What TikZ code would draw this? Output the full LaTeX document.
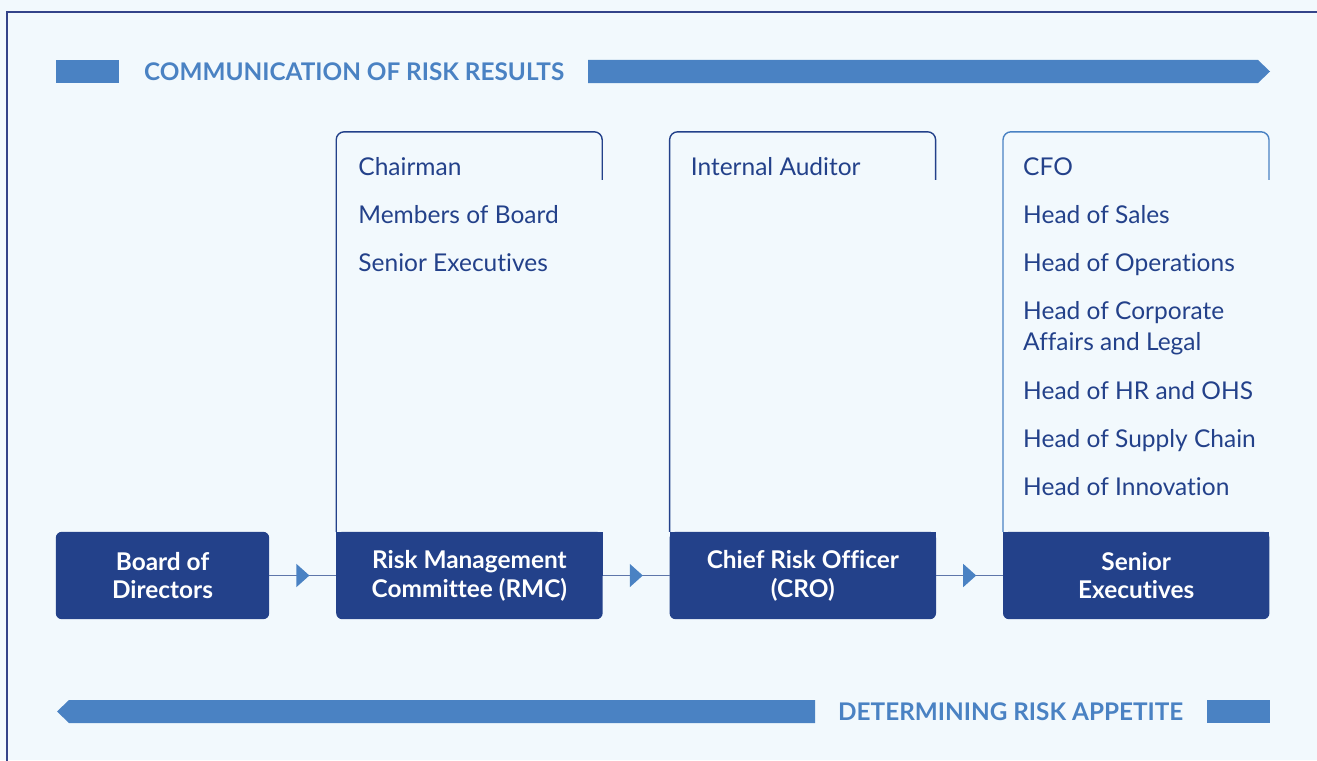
\documentclass[tikz,border=0pt]{standalone}
\usepackage{fontspec}
\setmainfont{Lato}[Ligatures={NoCommon}]
\usetikzlibrary{arrows.meta,positioning,calc,backgrounds,decorations.markings}
\definecolor{pagebg}{HTML}{F2F9FD}
\definecolor{navy}{HTML}{23418A}
\definecolor{bandblue}{HTML}{4A82C3}
\definecolor{frameline}{HTML}{34448A}
\definecolor{linkline}{HTML}{5E76AA}
\tikzset{
    headbox/.style={text=white, font=\bfseries\fontsize{24.5}{29}\selectfont, align=center, minimum width=266bp, minimum height=87bp, inner sep=0pt},
    memberlist/.style={text=navy, font=\fontsize{24.6}{31}\selectfont, align=left, anchor=base west, inner sep=0pt},
    bandtext/.style={text=bandblue, font=\bfseries\fontsize{24.4}{28}\selectfont, inner sep=0pt},
    panelline/.style={draw=navy, line width=1.4bp, rounded corners=8bp},
    linkarrow/.style={draw=linkline, line width=1.3bp, postaction={decorate},
        decoration={markings, mark=at position 0.6 with {\arrow{Triangle[length=13bp,width=23bp,color=bandblue]}}}}
}

\begin{document}
\begin{tikzpicture}[x=1bp, y=-1bp, node distance=67bp]
    \useasboundingbox (0,0) rectangle (1317,760);

    % top and bottom bands
    \fill[bandblue] (56,60) rectangle (119,83);
    \node[bandtext, anchor=west] (commtitle) at (144,71.5) {COMMUNICATION OF RISK RESULTS};
    \fill[bandblue] (588,60) -- (1258,60) -- (1270,71.5) -- (1258,83) -- (588,83) -- cycle;

    \fill[bandblue] (815,700) -- (69,700) -- (57,711.5) -- (69,723) -- (815,723) -- cycle;
    \node[bandtext, anchor=west] (appetite) at (838,711.5) {DETERMINING RISK APPETITE};
    \fill[bandblue] (1207,700) rectangle (1270,723);

    % the four bodies
    \node[headbox, minimum width=213bp] (board) at (162.5,575.5) {Board of\\Directors};
    \node[headbox, right=of board] (rmc) {Risk Management\\Committee (RMC)};
    \node[headbox, right=of rmc] (cro) {Chief Risk Officer\\(CRO)};
    \node[headbox, right=of cro] (senior) {Senior\\Executives};

    \begin{scope}[on background layer]
        \fill[pagebg] (0,0) rectangle (1317,760);
        \draw[frameline, line width=1.3bp] (7,780) -- (7,12) -- (1340,12);
        \fill[navy, rounded corners=6bp] (board.south west) rectangle (board.north east);
        \foreach \n in {rmc,cro,senior}{
            \fill[navy, rounded corners=6bp] (\n.south west) rectangle (\n.north east);
            \fill[navy] (\n.west) rectangle (\n.north east);
        }
    \end{scope}

    % member panels
    \draw[panelline] (rmc.north west) -- ++(0,-400) -- ++(266,0) -- ++(0,48);
    \draw[panelline] (cro.north west) -- ++(0,-400) -- ++(266,0) -- ++(0,48);
    \draw[panelline, draw=bandblue] (senior.north west) -- ++(0,-400) -- ++(266,0) -- ++(0,48);

    \foreach \txt [count=\i] in {Chairman, Members of Board, Senior Executives}
        \node[memberlist] (rmc-\i) at ($(rmc.north west)+(22,-356+48*\i-48)$) {\txt};
    \node[memberlist] (cro-1) at ($(cro.north west)+(21,-356)$) {Internal Auditor};
    % base of a wrapped item sits on its last line
    \foreach \yy/\txt [count=\i] in {176/CFO, 224/Head of Sales, 272/Head of Operations,
            351/{Head of Corporate\\Affairs and Legal}, 400/Head of HR and OHS,
            448/Head of Supply Chain, 496/Head of Innovation}
        \node[memberlist] (senior-\i) at ($(senior.north west)+(20,\yy-532)$) {\txt};

    % links
    \draw[linkarrow] (board) -- (rmc);
    \draw[linkarrow] (rmc) -- (cro);
    \draw[linkarrow] (cro) -- (senior);
\end{tikzpicture}
\end{document}
